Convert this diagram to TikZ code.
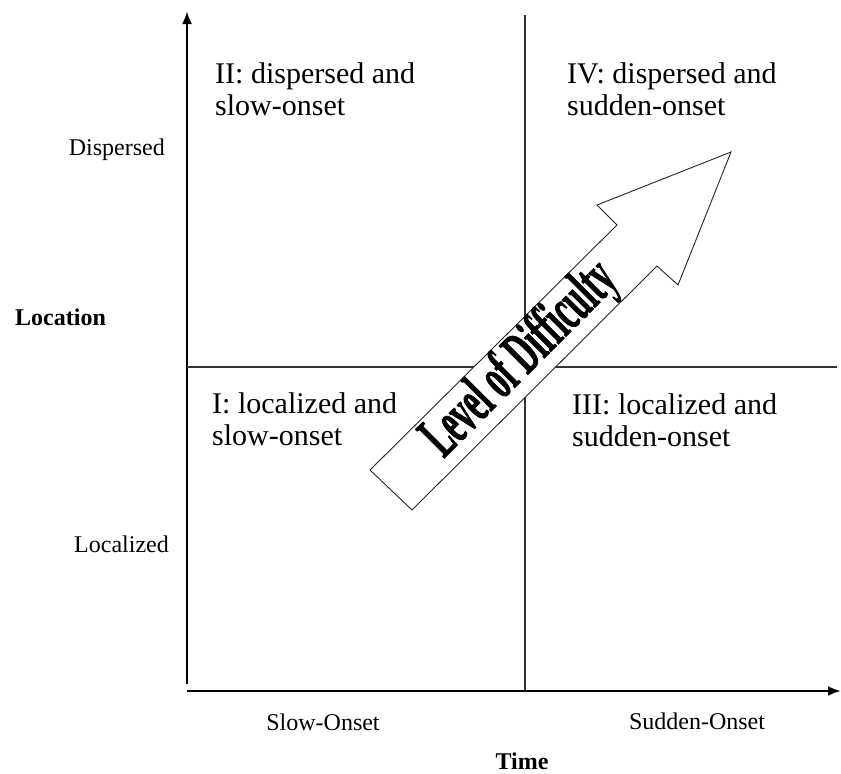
\documentclass[tikz,border=0pt]{standalone}
\usepackage{fontspec}
\setmainfont{Liberation Serif}
\newfontfamily\lodfont{Liberation Serif}[BoldFeatures={FakeBold=1.5}]
\usetikzlibrary{arrows.meta}
\begin{document}
\begin{tikzpicture}[x=1pt,y=-1pt,
  axis/.style={line width=2.6pt,-{Latex[length=13pt,width=10pt]}},
  divider/.style={line width=1.4pt,draw=black!80},
  quad/.style={anchor=base west,align=left,inner sep=0pt,font=\fontsize{30}{32}\selectfont},
  tick/.style={anchor=base,inner sep=0pt,font=\fontsize{24}{28}\selectfont},
  axlabel/.style={anchor=base,inner sep=0pt,font=\fontsize{24}{28}\selectfont\bfseries},
  bigarrow/.style={draw=black!85,line width=0.9pt,fill=white,line join=miter},
  arrowtext/.style={rotate=45,inner sep=0pt,font=\fontsize{62}{62}\selectfont\lodfont\bfseries}]
\useasboundingbox (0,0) rectangle (841,774);
% axes
\coordinate (yo) at (187,684);
\coordinate (ytip) at (187,11);
\coordinate (xo) at (187,691);
\coordinate (xtip) at (841,691);
\draw[axis] (yo) -- (ytip);
\draw[axis] (xo) -- (xtip);
% dividers
\coordinate (vt) at (525,15);
\coordinate (vb) at (525,690);
\coordinate (hl) at (187,367);
\coordinate (hr) at (837,367);
\draw[divider] (vt) -- (vb);
\draw[divider] (hl) -- (hr);
% big arrow
\draw[bigarrow] (412,510) -- (370,470) -- (617,225) -- (597,205) -- (731,152) -- (678,285) -- (657,266) -- cycle;
\node[arrowtext] (lod) at (521,360) {\scalebox{0.52}[1]{Level of Difficulty}};
% quadrant texts (anchor = baseline of the second line)
\node[quad] (q2) at (215,115) {II: dispersed and\\slow-onset};
\node[quad] (q4) at (567,115) {IV: dispersed and\\sudden-onset};
\node[quad] (q1) at (212,445) {I: localized and\\slow-onset};
\node[quad] (q3) at (572,446) {III: localized and\\sudden-onset};
% axis labels
\node[tick,anchor=base east] (disp) at (165,155) {Dispersed};
\node[tick,anchor=base east] (loc) at (169,552) {Localized};
\node[axlabel,anchor=base west] (location) at (15,325) {Location};
\node[tick] (slow) at (323,730) {Slow-Onset};
\node[tick] (sudden) at (697,729) {Sudden-Onset};
\node[axlabel] (time) at (522,769) {Time};
\end{tikzpicture}
\end{document}
